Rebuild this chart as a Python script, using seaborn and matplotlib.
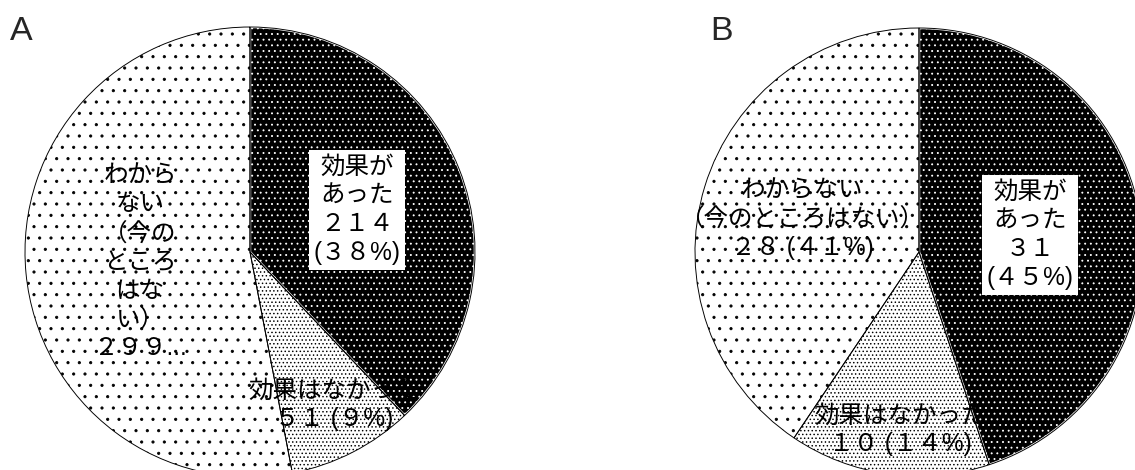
import numpy as np
import pandas as pd
import matplotlib
matplotlib.use("Agg")
import matplotlib.pyplot as plt
import seaborn as sns

# Data
categories = ["効果があった", "効果はなかった", "わからない（今のところはない）"]
counts_a = [214, 51, 299]
counts_b = [31, 10, 28]

labels_a = ["効果が\nあった\n２１４\n(３８%)",
            "効果はなかった\n５１ (９%)",
            "わから\nない\n（今の\nところ\nはな\nい）\n２９９..."]
labels_b = ["効果が\nあった\n３１\n(４５%)",
            "効果はなかった\n１０ (１４%)",
            "わからない\n（今のところはない）\n２８ (４１%)"]

sns.set_theme(style="white")
plt.rcParams["font.family"] = ["Liberation Sans", "Noto Sans CJK JP", "DejaVu Sans"]
plt.rcParams["hatch.linewidth"] = 0.9

DPI = 68
W, H = 1135, 470
fig = plt.figure(figsize=(W / DPI, H / DPI), dpi=DPI)

face = ["black", "white", "white"]
hatch_col = ["white", "black", "black"]
hatches = ["..", "...", "."]


def draw_pie(cx, cy, r, counts, labels, label_pos, boxed, letter, letter_xy):
    ax = fig.add_axes([(cx - r) / W, (H - cy - r) / H, 2 * r / W, 2 * r / H])
    df = pd.DataFrame({"cat": categories, "n": counts})
    wedges, _ = ax.pie(df["n"], startangle=90, counterclock=False, radius=1,
                       frame=True)
    for w, fc, hc, h in zip(wedges, face, hatch_col, hatches):
        w.set_facecolor(fc)
        w.set_edgecolor(hc)
        w.set_hatch(h)
        w.set_linewidth(2.5 if fc == "black" else 0)
    # black outline drawn over the hatched wedges
    ax.pie(df["n"], startangle=90, counterclock=False, radius=1, frame=True,
           wedgeprops=dict(fill=False, edgecolor="black", linewidth=1.0))
    ax.set_xlim(-1, 1)
    ax.set_ylim(-1, 1)
    ax.set_aspect("equal")
    ax.axis("off")
    for i, (txt, (px, py)) in enumerate(zip(labels, label_pos)):
        x = (px - cx) / r
        y = (cy - py) / r
        kw = {}
        if boxed[i]:
            kw["bbox"] = dict(facecolor="white", edgecolor="none", pad=5)
        ax.text(x, y, txt, ha="center", va="center", fontsize=26,
                linespacing=1.25, color="black", zorder=5, **kw)
    fig.text(letter_xy[0] / W, 1 - letter_xy[1] / H, letter, fontsize=36,
             ha="left", va="center")


draw_pie(250, 252, 225, counts_a, labels_a,
         [(357, 210), (334, 405), (140, 262)], [True, False, False],
         "A", (10, 32))
draw_pie(919, 252, 224, counts_b, labels_b,
         [(1030, 235), (900, 430), (802, 219)], [True, False, False],
         "B", (710, 32))

fig.savefig("out.png", dpi=DPI)
